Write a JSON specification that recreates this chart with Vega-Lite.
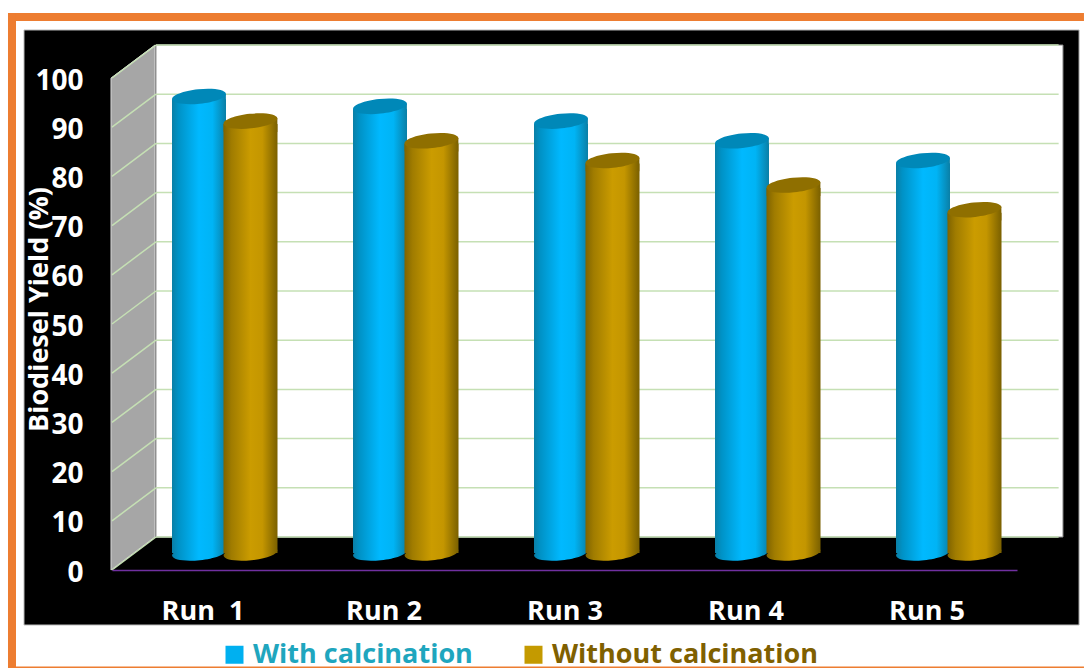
{
"$schema":"https://vega.github.io/schema/vega-lite/v6.json",
"width":905,"height":492,
"autosize":"none",
"padding":{"left":112,"top":78,"right":67,"bottom":98},
"background":"#ffffff",
"config":{"view":{"stroke":null},"font":"Open Sans"},
"datasets":{
"yields":[
{"run":1,"series":"With calcination","yield":94},
{"run":2,"series":"With calcination","yield":92},
{"run":3,"series":"With calcination","yield":89},
{"run":4,"series":"With calcination","yield":85},
{"run":5,"series":"With calcination","yield":81},
{"run":1,"series":"Without calcination","yield":89},
{"run":2,"series":"Without calcination","yield":85},
{"run":3,"series":"Without calcination","yield":81},
{"run":4,"series":"Without calcination","yield":76},
{"run":5,"series":"Without calcination","yield":71}
],
"ticks":[{"v":0},{"v":10},{"v":20},{"v":30},{"v":40},{"v":50},{"v":60},{"v":70},{"v":80},{"v":90},{"v":100}],
"one":[{"k":1}]
},
"layer":[
{"data":{"name":"one"},"mark":{"type":"rect","color":"#ED7D31"},
 "encoding":{"x":{"datum":-0.0746,"type":"quantitative","scale":{"domain":[0.5,5.5],"padding":0},
 "axis":{"values":[1,2,3,4,5],"title":null,"labelExpr":"datum.value === 1 ? 'Run\u00a0\u00a01' : 'Run ' + datum.value","ticks":false,"grid":false,"domainColor":"#7030A0","domainWidth":1.5,"labelColor":"#FFFFFF","labelFontSize":27,"labelFontWeight":"bold","labelFont":"Open Sans","labelPadding":28,"zindex":1}},"x2":{"datum":5.87},
 "y":{"datum":113.2,"type":"quantitative","scale":{"domain":[0,100]},
 "axis":{"values":[0,10,20,30,40,50,60,70,80,90,100],"title":"Biodiesel Yield (%)","titleColor":"#FFFFFF","titleFontSize":27,"titleFontWeight":"bold","titleFont":"Open Sans","titleAngle":-90,"titleBaseline":"alphabetic","titleX":-65,"titleY":231,"ticks":false,"grid":false,"domain":false,"labelColor":"#FFFFFF","labelFontSize":28,"labelFontWeight":"bold","labelFont":"Open Sans","labelPadding":29,"labelOffset":3,"zindex":1}},"y2":{"datum":111.6}}},
{"data":{"name":"one"},"mark":{"type":"rect","color":"#ED7D31"},
 "encoding":{"x":{"datum":-0.0746,"type":"quantitative","scale":{"domain":[0.5,5.5],"padding":0}},"x2":{"datum":-0.0304},
 "y":{"datum":113.2,"type":"quantitative","scale":{"domain":[0,100]}},"y2":{"datum":-19.9}}},
{"data":{"name":"one"},"mark":{"type":"rect","color":"#ED7D31"},
 "encoding":{"x":{"datum":-0.0746,"type":"quantitative","scale":{"domain":[0.5,5.5],"padding":0}},"x2":{"datum":5.87},
 "y":{"datum":-19.6,"type":"quantitative","scale":{"domain":[0,100]}},"y2":{"datum":-19.9}}},
{"data":{"name":"one"},"mark":{"type":"rect","color":"#000000","stroke":"#BDBDBD","strokeWidth":1},
 "encoding":{"x":{"datum":0.0138,"type":"quantitative","scale":{"domain":[0.5,5.5],"padding":0}},"x2":{"datum":5.843},
 "y":{"datum":109.76,"type":"quantitative","scale":{"domain":[0,100]}},"y2":{"datum":-11.18}}},
{"data":{"name":"one"},"mark":{"type":"rect","color":"#FFFFFF","stroke":"#8C8C8C","strokeWidth":1},
 "encoding":{"x":{"datum":0.743,"type":"quantitative","scale":{"domain":[0.5,5.5],"padding":0}},"x2":{"datum":5.754},
 "y":{"datum":106.7,"type":"quantitative","scale":{"domain":[0,100]}},"y2":{"datum":6.7}}},
{"data":{"name":"one"},"mark":{"type":"point","filled":true,"opacity":1,"fill":"#A6A6A6","stroke":"#D9D9D9","strokeWidth":1,"size":275625,
 "shape":"M-0.0838,1 L-0.0838,-0.874 L0.0838,-1 L0.0838,0.874 Z"},
 "encoding":{"x":{"datum":0.616,"type":"quantitative","scale":{"domain":[0.5,5.5],"padding":0}},"y":{"datum":53.35,"type":"quantitative","scale":{"domain":[0,100]}}}},
{"data":{"name":"ticks"},"mark":{"type":"rule","color":"#C5E0B4","strokeWidth":1.5,"yOffset":-33},
 "encoding":{"x":{"datum":0.743,"type":"quantitative","scale":{"domain":[0.5,5.5],"padding":0}},"x2":{"datum":5.73},
 "y":{"field":"v","type":"quantitative","scale":{"domain":[0,100]}}}},
{"data":{"name":"ticks"},"mark":{"type":"rule","color":"#C5E0B4","strokeWidth":1.5,"y2Offset":-33},
 "encoding":{"x":{"datum":0.5,"type":"quantitative","scale":{"domain":[0.5,5.5],"padding":0}},"x2":{"datum":0.743},
 "y":{"field":"v","type":"quantitative","scale":{"domain":[0,100]}},"y2":{"field":"v"}}},
{"data":{"name":"yields"},"mark":{"type":"bar","width":54,"xOffset":-3.5,"yOffset":-8,"y2Offset":-17},
 "transform":[{"filter":"datum.series === 'With calcination'"}],
 "encoding":{"x":{"field":"run","type":"quantitative","scale":{"domain":[0.5,5.5],"padding":0}},
 "y":{"field":"yield","type":"quantitative","scale":{"domain":[0,100]},"stack":null},"y2":{"datum":0},
 "color":{"field":"series","type":"nominal","scale":{"domain":["With calcination","Without calcination"],"range":["#00B0F0","#C49A00"]},
 "legend":{"title":null,"orient":"none","legendX":109,"legendY":563,"direction":"horizontal","columns":2,"symbolType":"square","symbolSize":324,"symbolStrokeWidth":0,"labelFontSize":27,"labelFontWeight":"bold","labelFont":"Open Sans","labelLimit":400,"columnPadding":47,"labelOffset":5,
 "labelColor":{"expr":"datum.value === 'With calcination' ? '#1FA6BE' : '#7F6000'"}}}}},
{"data":{"name":"yields"},"mark":{"type":"bar","width":54,"xOffset":-3.5,"yOffset":-8,"y2Offset":-17,
 "fill":{"gradient":"linear","x1":0,"x2":1,"y1":0,"y2":0,"stops":[{"offset":0,"color":"#0A7FA6"},{"offset":0.12,"color":"#0092C6"},{"offset":0.5,"color":"#00B9FF"},{"offset":0.75,"color":"#00B4F5"},{"offset":1,"color":"#0A7FA6"}]}},
 "transform":[{"filter":"datum.series === 'With calcination'"}],
 "encoding":{"x":{"field":"run","type":"quantitative","scale":{"domain":[0.5,5.5],"padding":0}},"y":{"field":"yield","type":"quantitative","scale":{"domain":[0,100]},"stack":null},"y2":{"datum":0}}},
{"data":{"name":"yields"},"mark":{"type":"point","filled":true,"opacity":1,"size":2916,"strokeWidth":0,"xOffset":-3.5,"yOffset":-17,
 "shape":"M-0.995,0.105 A1,0.27,-6,1,0,0.995,-0.105 A1,0.27,-6,1,0,-0.995,0.105 Z",
 "fill":{"gradient":"linear","x1":0,"x2":1,"y1":0,"y2":0,"stops":[{"offset":0,"color":"#0A7FA6"},{"offset":0.12,"color":"#0092C6"},{"offset":0.5,"color":"#00B9FF"},{"offset":0.75,"color":"#00B4F5"},{"offset":1,"color":"#0A7FA6"}]}},
 "transform":[{"filter":"datum.series === 'With calcination'"}],
 "encoding":{"x":{"field":"run","type":"quantitative","scale":{"domain":[0.5,5.5],"padding":0}},"y":{"datum":0,"type":"quantitative","scale":{"domain":[0,100]}}}},
{"data":{"name":"yields"},"mark":{"type":"point","filled":true,"opacity":1,"size":2916,"strokeWidth":0,"xOffset":-3.5,"yOffset":-11,
 "shape":"M-0.995,0.105 L0.995,-0.105 L0.995,0.4 L-0.995,0.4 Z",
 "fill":{"gradient":"linear","x1":0,"x2":1,"y1":0,"y2":0,"stops":[{"offset":0,"color":"#0A7FA6"},{"offset":0.12,"color":"#0092C6"},{"offset":0.5,"color":"#00B9FF"},{"offset":0.75,"color":"#00B4F5"},{"offset":1,"color":"#0A7FA6"}]}},
 "transform":[{"filter":"datum.series === 'With calcination'"}],
 "encoding":{"x":{"field":"run","type":"quantitative","scale":{"domain":[0.5,5.5],"padding":0}},"y":{"field":"yield","type":"quantitative","scale":{"domain":[0,100]},"stack":null}}},
{"data":{"name":"yields"},"mark":{"type":"point","filled":true,"opacity":1,"size":2916,"strokeWidth":0,"xOffset":-3.5,"yOffset":-11,"fill":"#0088B8",
 "shape":"M-0.995,0.105 A1,0.27,-6,1,0,0.995,-0.105 A1,0.27,-6,1,0,-0.995,0.105 Z"},
 "transform":[{"filter":"datum.series === 'With calcination'"}],
 "encoding":{"x":{"field":"run","type":"quantitative","scale":{"domain":[0.5,5.5],"padding":0}},"y":{"field":"yield","type":"quantitative","scale":{"domain":[0,100]},"stack":null}}},
{"data":{"name":"yields"},"mark":{"type":"bar","width":54,"xOffset":48,"yOffset":-8,"y2Offset":-17,
 "fill":{"gradient":"linear","x1":0,"x2":1,"y1":0,"y2":0,"stops":[{"offset":0,"color":"#7F6300"},{"offset":0.15,"color":"#A07C00"},{"offset":0.5,"color":"#CB9C00"},{"offset":0.72,"color":"#C49600"},{"offset":1,"color":"#7A6000"}]}},
 "transform":[{"filter":"datum.series === 'Without calcination'"}],
 "encoding":{"x":{"field":"run","type":"quantitative","scale":{"domain":[0.5,5.5],"padding":0}},"y":{"field":"yield","type":"quantitative","scale":{"domain":[0,100]},"stack":null},"y2":{"datum":0}}},
{"data":{"name":"yields"},"mark":{"type":"point","filled":true,"opacity":1,"size":2916,"strokeWidth":0,"xOffset":48,"yOffset":-17,
 "shape":"M-0.995,0.105 A1,0.27,-6,1,0,0.995,-0.105 A1,0.27,-6,1,0,-0.995,0.105 Z",
 "fill":{"gradient":"linear","x1":0,"x2":1,"y1":0,"y2":0,"stops":[{"offset":0,"color":"#7F6300"},{"offset":0.15,"color":"#A07C00"},{"offset":0.5,"color":"#CB9C00"},{"offset":0.72,"color":"#C49600"},{"offset":1,"color":"#7A6000"}]}},
 "transform":[{"filter":"datum.series === 'Without calcination'"}],
 "encoding":{"x":{"field":"run","type":"quantitative","scale":{"domain":[0.5,5.5],"padding":0}},"y":{"datum":0,"type":"quantitative","scale":{"domain":[0,100]}}}},
{"data":{"name":"yields"},"mark":{"type":"point","filled":true,"opacity":1,"size":2916,"strokeWidth":0,"xOffset":48,"yOffset":-11,
 "shape":"M-0.995,0.105 L0.995,-0.105 L0.995,0.4 L-0.995,0.4 Z",
 "fill":{"gradient":"linear","x1":0,"x2":1,"y1":0,"y2":0,"stops":[{"offset":0,"color":"#7F6300"},{"offset":0.15,"color":"#A07C00"},{"offset":0.5,"color":"#CB9C00"},{"offset":0.72,"color":"#C49600"},{"offset":1,"color":"#7A6000"}]}},
 "transform":[{"filter":"datum.series === 'Without calcination'"}],
 "encoding":{"x":{"field":"run","type":"quantitative","scale":{"domain":[0.5,5.5],"padding":0}},"y":{"field":"yield","type":"quantitative","scale":{"domain":[0,100]},"stack":null}}},
{"data":{"name":"yields"},"mark":{"type":"point","filled":true,"opacity":1,"size":2916,"strokeWidth":0,"xOffset":48,"yOffset":-11,"fill":"#8F6F00",
 "shape":"M-0.995,0.105 A1,0.27,-6,1,0,0.995,-0.105 A1,0.27,-6,1,0,-0.995,0.105 Z"},
 "transform":[{"filter":"datum.series === 'Without calcination'"}],
 "encoding":{"x":{"field":"run","type":"quantitative","scale":{"domain":[0.5,5.5],"padding":0}},"y":{"field":"yield","type":"quantitative","scale":{"domain":[0,100]},"stack":null}}}
]
}
